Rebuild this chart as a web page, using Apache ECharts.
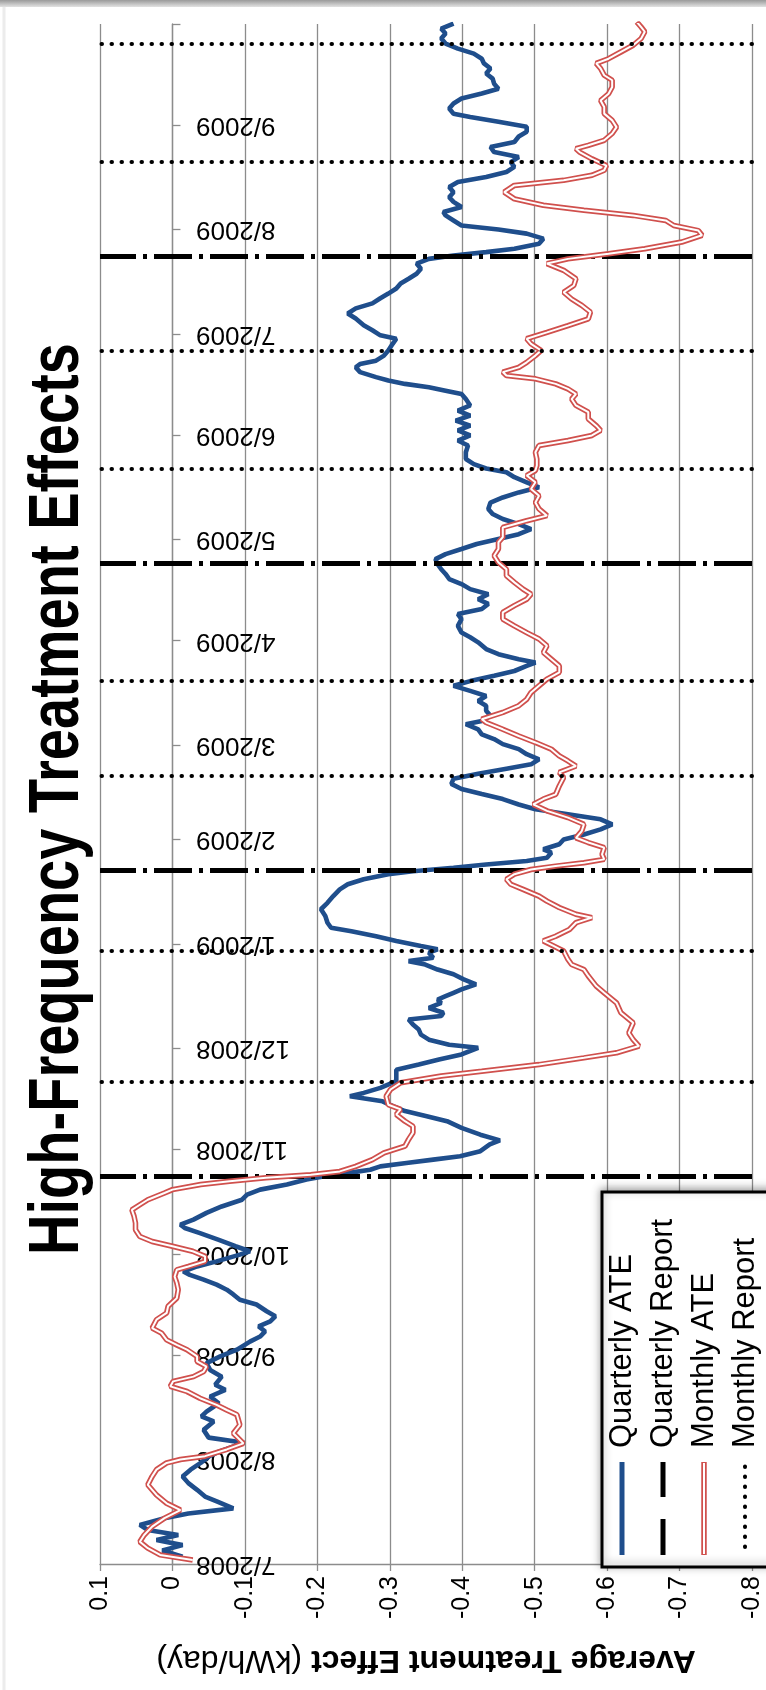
<!DOCTYPE html>
<html>
<head>
<meta charset="utf-8">
<script src="https://cdn.jsdelivr.net/npm/echarts@6/dist/echarts.min.js"></script>
<style>
html,body{margin:0;padding:0;background:#fff;}
#c{width:766px;height:1690px;}
</style>
</head>
<body>
<div id="c"></div>
<script>
// ---------- DATA ----------
const START = '2008-07-01';           // day 0 of the series
const AXIS_END = '2009-10-01';
const TITLE = 'High-Frequency Treatment Effects';
const AXIS_NAME_BOLD = 'Average Treatment Effect';
const AXIS_NAME_UNIT = '(kWh/day)';
const seriesNames = ['Quarterly ATE', 'Quarterly Report', 'Monthly ATE', 'Monthly Report'];

// date tick labels (month starts)
const tickLabels = ['7/2008','8/2008','9/2008','10/2008','11/2008','12/2008','1/2009','2/2009',
  '3/2009','4/2009','5/2009','6/2009','7/2009','8/2009','9/2009'];

// report dates
const quarterlyReports = ['2008-10-24','2009-01-23','2009-04-24','2009-07-24'];
const monthlyReports = ['2008-11-21','2008-12-30','2009-02-20','2009-03-20','2009-05-22','2009-06-26','2009-08-21','2009-09-25'];

// Quarterly ATE: days since START, value (kWh/day)
const qDay = [2.2,4.0,5.6,7.1,8.6,10.1,11.6,13.6,15.0,16.5,18.5,20.0,22.0,24.0,26.0,28.0,30.0,32.0,33.4,36.0,
  37.5,39.8,42.3,43.8,45.2,47.7,49.7,51.7,53.2,55.6,57.6,59.6,61.6,63.6,66.0,67.5,69.0,70.5,72.0,73.5,
  75.0,77.0,78.4,80.0,81.4,82.9,84.4,85.8,86.8,88.3,89.8,91.8,92.8,94.3,96.2,98.2,99.7,100.7,102.2,104.2,
  106.1,108.1,109.6,111.1,112.6,114.1,115.0,116.0,117.0,118.0,119.0,120.0,121.0,122.5,124.5,125.7,127.4,129.4,131.4,132.9,
  134.4,135.8,137.3,138.8,139.8,141.3,143.3,145.2,146.7,148.2,149.7,151.2,153.2,154.1,155.6,157.1,158.6,160.1,161.6,162.6,
  163.6,165.0,166.5,167.5,168.5,169.5,170.5,172.0,173.5,175.0,176.4,177.9,178.9,179.9,181.4,182.4,183.4,184.9,186.3,187.8,
  188.8,190.3,192.3,194.3,196.2,198.2,200.2,201.7,203.2,204.7,205.6,206.6,207.6,208.6,209.6,211.1,212.1,213.6,215.0,216.5,
  218.0,219.5,221.0,222.5,224.0,225.4,227.0,228.5,230.0,231.5,233.0,234.5,236.0,237.3,238.8,240.3,241.8,243.3,244.8,246.2,
  247.7,249.2,250.2,251.7,253.2,254.7,256.1,257.6,259.1,260.6,262.0,263.6,265.0,266.5,267.5,268.5,270.0,271.5,273.5,275.0,
  276.4,278.4,280.4,281.9,283.4,284.9,286.3,287.8,289.3,290.8,292.3,293.8,295.2,296.7,298.2,299.7,301.2,302.7,304.2,305.6,
  307.1,308.6,310.1,311.6,313.1,315.0,316.5,318.0,319.5,321.0,322.5,324.0,325.1,326.4,327.9,329.9,331.9,333.4,334.9,336.4,
  337.8,339.3,340.8,342.3,343.8,345.7,347.2,348.2,349.2,350.2,351.2,352.2,353.7,355.1,356.1,357.1,358.6,360.1,362.1,363.6,
  364.6,366.1,367.6,369.6,371.1,372.6,374.1,375.6,377.0,378.5,380.0,381.4,382.9,384.4,385.9,387.3,388.3,389.3,390.3,391.8,
  393.3,394.8,396.0,397.2,398.7,400.2,401.2,402.7,404.2,405.6,407.1,408.6,410.1,411.6,413.1,414.6,416.0,417.5,419.0,420.5,
  422.0,423.6,425.0,426.5,428.0,429.4,430.4,431.9,433.4,434.9,436.4,437.8,439.3,440.8,442.3,443.8,445.3,446.7,448.2,449.7,
  451.2,452.7,454.2,455.6,457.1];
const qATE = [-0.014,0.014,-0.014,0.022,-0.008,0.034,0.045,0.011,-0.022,-0.084,-0.062,-0.045,-0.034,-0.022,-0.014,-0.025,-0.039,-0.051,-0.065,-0.099,
  -0.050,-0.043,-0.057,-0.040,-0.047,-0.064,-0.052,-0.073,-0.059,-0.068,-0.052,-0.047,-0.066,-0.089,-0.107,-0.121,-0.128,-0.119,-0.135,-0.142,
  -0.130,-0.116,-0.093,-0.084,-0.075,-0.061,-0.043,-0.024,-0.015,-0.034,-0.061,-0.093,-0.107,-0.087,-0.064,-0.038,-0.017,-0.011,-0.029,-0.047,
  -0.068,-0.096,-0.103,-0.121,-0.158,-0.185,-0.208,-0.241,-0.273,-0.287,-0.323,-0.360,-0.397,-0.425,-0.438,-0.452,-0.425,-0.399,-0.379,-0.351,
  -0.321,-0.305,-0.290,-0.245,-0.264,-0.287,-0.309,-0.309,-0.309,-0.340,-0.368,-0.399,-0.422,-0.382,-0.354,-0.343,-0.340,-0.332,-0.326,-0.371,
  -0.374,-0.354,-0.371,-0.366,-0.377,-0.388,-0.399,-0.419,-0.402,-0.388,-0.366,-0.349,-0.326,-0.360,-0.354,-0.366,-0.343,-0.309,-0.281,-0.247,
  -0.219,-0.214,-0.211,-0.205,-0.214,-0.222,-0.231,-0.242,-0.264,-0.298,-0.332,-0.388,-0.433,-0.489,-0.517,-0.523,-0.512,-0.534,-0.540,-0.568,
  -0.591,-0.607,-0.591,-0.546,-0.501,-0.478,-0.456,-0.427,-0.399,-0.385,-0.388,-0.422,-0.461,-0.495,-0.506,-0.489,-0.478,-0.456,-0.444,-0.427,
  -0.422,-0.405,-0.427,-0.439,-0.433,-0.433,-0.422,-0.433,-0.411,-0.388,-0.411,-0.444,-0.472,-0.489,-0.501,-0.478,-0.450,-0.433,-0.422,-0.411,
  -0.399,-0.394,-0.399,-0.394,-0.427,-0.436,-0.422,-0.436,-0.411,-0.399,-0.382,-0.377,-0.371,-0.366,-0.363,-0.377,-0.399,-0.420,-0.450,-0.478,
  -0.495,-0.478,-0.456,-0.442,-0.436,-0.439,-0.456,-0.478,-0.506,-0.489,-0.472,-0.461,-0.433,-0.416,-0.405,-0.405,-0.408,-0.394,-0.411,-0.394,
  -0.411,-0.391,-0.411,-0.394,-0.411,-0.405,-0.399,-0.377,-0.354,-0.321,-0.298,-0.281,-0.259,-0.253,-0.259,-0.281,-0.292,-0.298,-0.304,-0.309,
  -0.287,-0.276,-0.264,-0.253,-0.242,-0.253,-0.276,-0.287,-0.298,-0.309,-0.315,-0.326,-0.337,-0.343,-0.337,-0.354,-0.388,-0.433,-0.472,-0.506,
  -0.512,-0.489,-0.450,-0.399,-0.388,-0.377,-0.374,-0.399,-0.388,-0.382,-0.388,-0.382,-0.394,-0.433,-0.461,-0.472,-0.467,-0.478,-0.444,-0.439,
  -0.472,-0.478,-0.489,-0.489,-0.450,-0.411,-0.388,-0.382,-0.388,-0.399,-0.427,-0.450,-0.444,-0.442,-0.433,-0.439,-0.430,-0.427,-0.416,-0.394,
  -0.377,-0.371,-0.377,-0.371,-0.388];

// Monthly ATE: days since START, value (kWh/day)
const mDay = [1.2,2.7,4.7,6.6,8.6,11.1,13.6,16.0,18.0,20.5,23.5,26.0,28.0,30.0,31.0,32.0,34.0,35.8,38.8,41.3,
  44.3,45.7,47.2,49.2,51.2,52.7,54.2,55.6,57.1,58.6,60.1,61.6,63.6,65.0,66.5,68.5,70.0,72.5,74.5,76.5,
  78.9,81.4,83.4,85.3,87.3,88.3,89.8,91.3,92.8,94.3,95.7,97.2,99.2,101.2,103.2,105.1,106.6,108.1,110.1,111.1,
  112.6,113.6,114.6,115.5,116.5,118.0,120.0,122.0,124.0,126.0,128.0,129.9,131.4,133.4,134.9,136.3,138.8,140.8,142.8,144.8,
  146.2,148.2,150.2,151.7,153.7,155.6,157.6,160.6,163.6,166.5,169.5,171.5,174.5,176.4,177.9,179.4,181.9,183.4,184.9,186.3,
  188.3,190.3,191.8,192.8,194.8,196.7,198.2,200.2,201.7,203.2,204.7,206.1,207.1,208.1,209.1,210.6,212.6,214.1,215.5,217.5,
  219.5,221.5,223.5,225.4,227.0,228.4,230.9,233.4,234.9,236.8,238.3,239.8,241.8,243.8,245.7,247.7,249.7,250.7,252.7,254.7,
  256.6,258.6,260.6,262.6,264.6,266.5,268.5,270.5,272.5,274.5,276.4,278.4,280.4,282.4,284.4,286.3,287.8,289.3,291.3,293.3,
  295.2,297.2,299.2,301.2,303.2,304.7,307.6,309.6,311.1,313.1,315.0,317.0,319.0,321.0,323.0,324.5,326.0,327.9,329.9,331.9,
  333.4,334.9,336.4,337.8,339.8,341.8,343.8,345.7,347.2,348.7,350.2,351.7,352.7,353.7,355.1,356.6,358.6,360.1,362.1,363.6,
  365.5,367.5,369.5,371.5,373.5,375.4,377.4,379.4,381.4,383.9,385.9,387.3,388.8,390.3,392.3,394.3,395.7,397.2,398.7,400.2,
  401.7,403.2,405.1,407.1,409.1,410.6,412.1,413.6,415.0,417.0,419.0,420.0,421.0,422.5,424.5,426.4,428.4,430.4,432.4,434.3,
  436.3,438.3,440.3,441.8,443.8,445.3,446.7,448.7,450.7,452.7,454.7,456.1,457.6];
const mATE = [-0.028,0.017,0.034,0.045,0.039,0.028,0.011,-0.011,0.008,0.022,0.034,0.028,0.022,0.008,-0.011,-0.045,-0.075,-0.098,-0.084,-0.093,
  -0.089,-0.075,-0.061,-0.038,-0.020,0.003,-0.001,-0.029,-0.043,-0.047,-0.034,-0.034,-0.020,-0.006,0.008,0.015,0.028,0.022,0.008,0.006,
  -0.006,-0.008,-0.006,-0.003,-0.006,-0.022,-0.045,-0.045,-0.028,0.000,0.028,0.045,0.051,0.051,0.053,0.056,0.045,0.034,0.011,0.000,
  -0.039,-0.079,-0.129,-0.191,-0.231,-0.253,-0.276,-0.292,-0.321,-0.326,-0.332,-0.332,-0.321,-0.309,-0.315,-0.298,-0.295,-0.301,-0.315,-0.371,
  -0.427,-0.506,-0.568,-0.613,-0.644,-0.636,-0.630,-0.636,-0.619,-0.613,-0.596,-0.585,-0.574,-0.568,-0.551,-0.546,-0.540,-0.526,-0.512,-0.529,
  -0.548,-0.557,-0.579,-0.557,-0.534,-0.517,-0.506,-0.484,-0.467,-0.461,-0.472,-0.495,-0.529,-0.568,-0.596,-0.593,-0.596,-0.574,-0.557,-0.565,
  -0.568,-0.546,-0.517,-0.498,-0.512,-0.529,-0.534,-0.540,-0.534,-0.557,-0.546,-0.534,-0.523,-0.501,-0.478,-0.456,-0.433,-0.427,-0.456,-0.478,
  -0.489,-0.495,-0.506,-0.517,-0.534,-0.534,-0.523,-0.512,-0.517,-0.506,-0.489,-0.472,-0.456,-0.456,-0.472,-0.489,-0.495,-0.484,-0.472,-0.461,
  -0.461,-0.450,-0.444,-0.450,-0.450,-0.456,-0.456,-0.489,-0.517,-0.506,-0.501,-0.506,-0.495,-0.501,-0.489,-0.501,-0.503,-0.503,-0.501,-0.506,
  -0.546,-0.579,-0.591,-0.585,-0.574,-0.574,-0.557,-0.551,-0.557,-0.546,-0.529,-0.501,-0.461,-0.456,-0.478,-0.489,-0.501,-0.509,-0.495,-0.489,
  -0.517,-0.546,-0.574,-0.577,-0.565,-0.551,-0.540,-0.554,-0.557,-0.540,-0.517,-0.546,-0.602,-0.652,-0.703,-0.731,-0.726,-0.692,-0.681,-0.636,
  -0.568,-0.512,-0.472,-0.458,-0.472,-0.540,-0.579,-0.596,-0.599,-0.579,-0.562,-0.557,-0.574,-0.596,-0.607,-0.613,-0.607,-0.596,-0.596,-0.591,
  -0.602,-0.607,-0.607,-0.596,-0.591,-0.585,-0.602,-0.619,-0.636,-0.647,-0.652,-0.647,-0.641];

// value axis range
const valueMin = -0.8, valueMax = 0.1, valueStep = 0.1;

// ---------- helpers ----------
const DAY = 86400000;
function ts(s) { const p = s.split('-').map(Number); return Date.UTC(p[0], p[1] - 1, p[2]); }
const t0 = ts(START);
const tEnd = ts(AXIS_END);
const monthTs = tickLabels.map(l => { const p = l.split('/').map(Number); return Date.UTC(p[1], p[0] - 1, 1); });
function monthLabel(v) {
  let best = 0, bd = Infinity;
  monthTs.forEach((m, i) => { const d = Math.abs(m - v); if (d < bd) { bd = d; best = i; } });
  return bd < DAY ? tickLabels[best] : '';
}
const qData = qDay.map((d, i) => [qATE[i], t0 + d * DAY]);
const mData = mDay.map((d, i) => [mATE[i], t0 + d * DAY]);

const BLUE = '#1f4e8c', RED = '#d0504d', GRID = '#8c8c8c';
const FONT = "'Liberation Sans', Arial, sans-serif";
const DASHDOT = [38, 7, 4, 7];
const DOTS = [0.5, 9.5];

// ---------- legend (drawn rotated like the source) ----------
const legX = [622, 663, 704, 745];
const legTextY = 1448, legSymTop = 1462, legSymBot = 1555;
const legendEls = [
  { type: 'rect', z: 100, shape: { x: 602, y: 1192, width: 190, height: 375 },
    style: { fill: '#fff', stroke: '#000', lineWidth: 3, shadowBlur: 8, shadowColor: 'rgba(0,0,0,0.35)', shadowOffsetX: 0, shadowOffsetY: -2 } },
  { type: 'line', z: 101, shape: { x1: legX[0], y1: legSymTop, x2: legX[0], y2: legSymBot }, style: { stroke: BLUE, lineWidth: 5 } },
  { type: 'line', z: 101, shape: { x1: legX[1], y1: legSymBot, x2: legX[1], y2: legSymTop }, style: { stroke: '#000', lineWidth: 5, lineDash: [36, 22] } },
  { type: 'line', z: 101, shape: { x1: legX[2], y1: legSymTop, x2: legX[2], y2: legSymBot }, style: { stroke: RED, lineWidth: 5.5 } },
  { type: 'line', z: 102, shape: { x1: legX[2], y1: legSymTop + 1, x2: legX[2], y2: legSymBot - 1 }, style: { stroke: '#fff', lineWidth: 2 } },
  { type: 'line', z: 101, shape: { x1: legX[3], y1: legSymBot - 8, x2: legX[3], y2: legSymTop + 4 }, style: { stroke: '#000', lineWidth: 4, lineDash: DOTS, lineCap: 'round' } }
];
seriesNames.forEach((n, i) => {
  legendEls.push({ type: 'text', z: 103, x: legX[i], y: legTextY, rotation: Math.PI / 2,
    style: { text: n, x: 0, y: 0, fill: '#000', font: '31px ' + FONT, textAlign: 'left', textVerticalAlign: 'middle' } });
});

const option = {
  animation: false,
  backgroundColor: '#fff',
  grid: { left: 100, top: 24, width: 652, height: 1540, containLabel: false, outerBoundsMode: 'none' },
  xAxis: {
    type: 'value', inverse: true, min: valueMin, max: valueMax, interval: valueStep, position: 'bottom',
    axisLine: { show: true, onZero: false, lineStyle: { color: GRID, width: 1.3 } },
    axisTick: { show: true, length: 7, lineStyle: { color: GRID, width: 1.3 } },
    axisLabel: { rotate: 90, margin: 12, fontSize: 25, color: '#000', fontFamily: FONT,
      formatter: v => { const r = Math.round(v * 10) / 10; return r === 0 ? '0' : String(r); } },
    splitLine: { show: true, lineStyle: { color: GRID, width: 1.3 } },
    name: '{b|' + AXIS_NAME_BOLD + ' }{n|' + AXIS_NAME_UNIT + '}',
    nameLocation: 'middle', nameGap: 80, nameRotate: 180,
    nameTextStyle: { rich: { b: { fontSize: 32, fontWeight: 'bold', fontFamily: FONT, color: '#000' },
                             n: { fontSize: 32, fontFamily: FONT, color: '#000' } } }
  },
  yAxis: {
    type: 'value', min: t0, max: tEnd, scale: true,
    axisLine: { show: true, onZero: true, lineStyle: { color: GRID, width: 1.3 } },
    axisTick: { show: true, inside: true, length: 8, customValues: monthTs.concat([tEnd]), lineStyle: { color: GRID, width: 1.3 } },
    axisLabel: { show: true, inside: true, rotate: 180, margin: 96,
      customValues: monthTs, fontSize: 26, color: '#000', fontFamily: FONT,
      showMinLabel: true, formatter: v => monthLabel(v) },
    splitLine: { show: false }
  },
  graphic: [
    { type: 'rect', shape: { x: 0, y: 0, width: 766, height: 7 },
      style: { fill: new echarts.graphic.LinearGradient(0, 0, 0, 1, [{ offset: 0, color: '#9a9a9a' }, { offset: 1, color: '#e2e2e2' }]) } },
    { type: 'line', shape: { x1: 4, y1: 7, x2: 4, y2: 1690 }, style: { stroke: '#ececec', lineWidth: 3 } },
    { type: 'text', x: 59, y: 799, rotation: Math.PI / 2, scaleX: 0.8,
      style: { text: TITLE, x: 0, y: 0, fill: '#000', font: 'bold 70px ' + FONT, textAlign: 'center', textVerticalAlign: 'middle' } }
  ].concat(legendEls),
  series: [
    { name: seriesNames[0], type: 'line', data: qData, showSymbol: false, symbol: 'none', z: 2,
      lineStyle: { color: BLUE, width: 4.6 }, emphasis: { disabled: true } },
    { name: seriesNames[1], type: 'line', data: [], z: 3,
      markLine: { silent: true, symbol: ['none', 'none'], label: { show: false }, z: 3,
        lineStyle: { color: '#000', width: 5, type: DASHDOT }, emphasis: { disabled: true },
        data: quarterlyReports.map(d => ({ yAxis: ts(d) })) } },
    { name: seriesNames[2], type: 'line', data: mData, showSymbol: false, symbol: 'none', z: 4,
      lineStyle: { color: RED, width: 5.5 }, emphasis: { disabled: true } },
    { name: seriesNames[2] + ' (inner)', type: 'line', data: mData, showSymbol: false, symbol: 'none', z: 4,
      lineStyle: { color: '#fff', width: 2 }, emphasis: { disabled: true }, silent: true },
    { name: seriesNames[3], type: 'line', data: [], z: 5,
      markLine: { silent: true, symbol: ['none', 'none'], label: { show: false }, z: 5,
        lineStyle: { color: '#000', width: 4, type: DOTS, cap: 'round' }, emphasis: { disabled: true },
        data: monthlyReports.map(d => ({ yAxis: ts(d) })) } }
  ]
};
const chart = echarts.init(document.getElementById('c'), null, { renderer: 'canvas' });
chart.setOption(option);
</script>
</body>
</html>
